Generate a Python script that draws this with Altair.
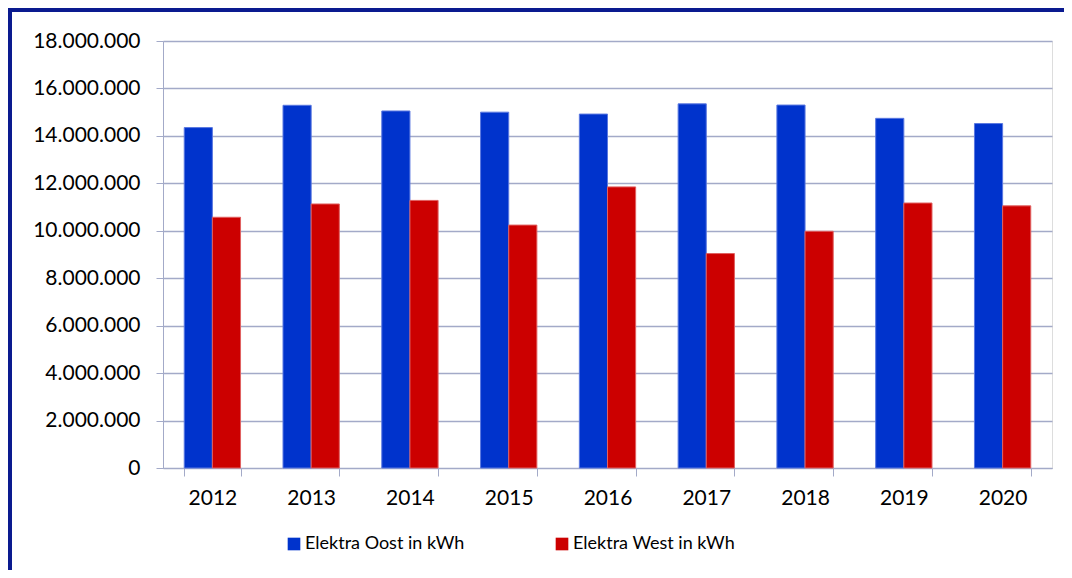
import altair as alt
import pandas as pd

years = ["2012", "2013", "2014", "2015", "2016", "2017", "2018", "2019", "2020"]
oost = [14350000, 15290000, 15050000, 15000000, 14920000, 15350000, 15300000, 14740000, 14520000]
west = [10570000, 11130000, 11280000, 10240000, 11850000, 9040000, 9980000, 11170000, 11050000]
series = ["Elektra Oost in kWh", "Elektra West in kWh"]
colors = ["#0033CC", "#CC0000"]
strokes = ["#5A78E0", "#E06060"]

rows = []
for i, y in enumerate(years):
    rows.append({"year": y, "series": series[0], "value": oost[i]})
    rows.append({"year": y, "series": series[1], "value": west[i]})
df = pd.DataFrame(rows)

FONT = "Lato"
FS = 21
GRID = "#A3AAC8"

bars = alt.Chart(df).mark_bar(strokeWidth=1).encode(
    x=alt.X("year:N", title=None, sort=years,
            scale=alt.Scale(paddingInner=0.43, paddingOuter=0.215),
            axis=alt.Axis(labelAngle=0, tickBand="extent", tickSize=8, tickColor=GRID,
                          domainColor=GRID, labelFont=FONT, labelFontSize=FS,
                          labelColor="#000000", labelPadding=11, grid=False)),
    xOffset=alt.XOffset("series:N", sort=series, scale=alt.Scale(paddingInner=0, paddingOuter=0)),
    y=alt.Y("value:Q", title=None,
            scale=alt.Scale(domain=[0, 18000000], nice=False),
            axis=alt.Axis(values=list(range(0, 18000001, 2000000)), tickSize=7, tickColor=GRID,
                          domainColor=GRID, gridColor=GRID, gridWidth=1.5, labelFont=FONT,
                          labelFontSize=FS, labelColor="#000000", labelPadding=16,
                          labelExpr="replace(format(datum.value, ','), regexp(',', 'g'), '.')")),
    color=alt.Color("series:N", sort=series,
                    scale=alt.Scale(domain=series, range=colors),
                    legend=alt.Legend(title=None, orient="none", direction="horizontal",
                                      legendX=122, legendY=494, labelFont=FONT,
                                      labelFontSize=18, labelColor="#000000", labelLimit=400,
                                      symbolType="square", symbolSize=160,
                                      symbolStrokeWidth=0, columnPadding=88,
                                      labelOffset=2)),
    stroke=alt.Stroke("series:N", scale=alt.Scale(domain=series, range=strokes), legend=None),
)

frame_left = alt.Chart(df).mark_rule(color="#0A1A8F", strokeWidth=4).encode(
    x=alt.value(-153), y=alt.value(-35), y2=alt.value(540)
)
frame_top = alt.Chart(df).mark_rule(color="#0A1A8F", strokeWidth=4).encode(
    x=alt.value(-155), x2=alt.value(905), y=alt.value(-31.5)
)

chart = alt.layer(bars, frame_left, frame_top).properties(
    width=889, height=427,
    autosize=alt.AutoSizeParams(type="none"),
    padding={"left": 155, "top": 33, "right": 12, "bottom": 102},
).configure_view(stroke=None).configure(background="white")

chart.save("out.html", embed_options={"renderer": "svg", "actions": False})
